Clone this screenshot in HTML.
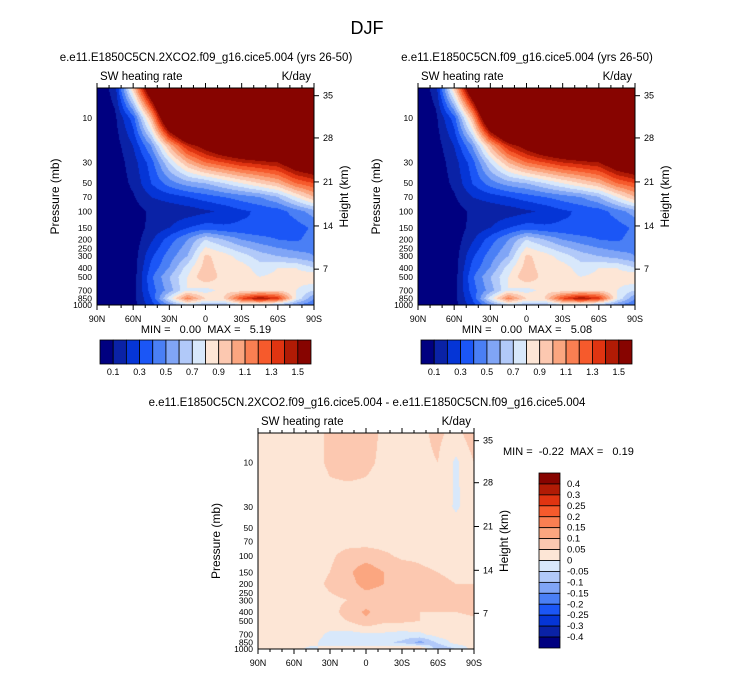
<!DOCTYPE html>
<html><head><meta charset="utf-8">
<style>
body{margin:0;background:#fff;}
#root{position:relative;width:733px;height:673px;overflow:hidden;background:#fff;font-family:"Liberation Sans",sans-serif;}
canvas{position:absolute;}
svg{position:absolute;left:0;top:0;}
text{white-space:pre;}
</style></head>
<body>
<div id="root">
<canvas id="c1" width="217" height="217" style="left:97px;top:88px"></canvas>
<canvas id="c2" width="217" height="217" style="left:418px;top:88px"></canvas>
<canvas id="c3" width="216" height="216" style="left:258px;top:433px"></canvas>
<svg id="s" width="733" height="673"></svg>
</div>
<script>
// ---- data ----
const lats = [90,75,60,45,30,15,0,-15,-30,-45,-60,-75,-90];
const levels = [5,10,20,30,50,70,100,150,200,300,400,500,700,850,1000];
const fieldA = [
 [0.0,0.15,0.9,1.8,2.5,3.0,3.2,3.3,3.4,3.4,3.4,3.3,3.2],
 [0.0,0.08,0.35,1.0,2.0,2.5,2.8,2.9,3.0,3.0,3.0,2.9,2.8],
 [0.0,0.05,0.2,0.5,1.0,1.4,1.6,1.8,1.9,2.0,2.0,2.0,2.0],
 [0.0,0.04,0.15,0.35,0.7,1.0,1.2,1.3,1.4,1.45,1.5,1.7,1.8],
 [0.0,0.04,0.12,0.3,0.45,0.55,0.6,0.7,0.8,0.9,1.0,1.2,1.3],
 [0.0,0.04,0.09,0.2,0.25,0.3,0.35,0.4,0.45,0.5,0.6,0.8,1.0],
 [0.0,0.03,0.05,0.12,0.12,0.14,0.18,0.22,0.28,0.32,0.35,0.45,0.55],
 [0.0,0.03,0.04,0.13,0.2,0.3,0.35,0.32,0.32,0.3,0.32,0.35,0.42],
 [0.0,0.03,0.04,0.18,0.35,0.5,0.7,0.6,0.5,0.45,0.4,0.38,0.45],
 [0.0,0.03,0.04,0.28,0.45,0.6,0.92,0.85,0.75,0.65,0.6,0.55,0.5],
 [0.0,0.03,0.04,0.33,0.5,0.75,0.95,0.85,0.85,0.75,0.8,0.8,0.7],
 [0.0,0.03,0.04,0.38,0.6,0.8,1.0,0.85,0.85,0.8,0.82,0.85,0.9],
 [0.0,0.03,0.05,0.35,0.55,0.8,0.75,0.85,0.85,0.88,0.9,0.8,0.7],
 [0.0,0.03,0.06,0.3,0.75,1.15,0.9,0.9,1.3,1.5,1.35,0.8,0.5],
 [0.0,0.03,0.06,0.25,0.5,0.7,0.6,0.6,0.7,0.7,0.6,0.5,0.4]
];
const fieldB = fieldA.map(r=>r.slice());
const fieldD = [
 [0.02,0.02,0.02,0.03,0.06,0.07,0.07,0.04,0.03,0.04,0.06,0.03,0.08],
 [0.02,0.02,0.02,0.03,0.06,0.07,0.06,0.04,0.03,0.04,0.05,-0.01,0.05],
 [0.02,0.02,0.02,0.02,0.04,0.04,0.04,0.03,0.03,0.04,0.05,-0.01,0.04],
 [0.02,0.02,0.02,0.02,0.03,0.03,0.03,0.03,0.04,0.04,0.04,-0.01,0.04],
 [0.02,0.02,0.02,0.03,0.03,0.03,0.03,0.03,0.03,0.03,0.04,0.03,0.04],
 [0.02,0.02,0.02,0.03,0.03,0.03,0.03,0.03,0.03,0.03,0.03,0.03,0.03],
 [0.02,0.02,0.02,0.03,0.04,0.07,0.08,0.06,0.04,0.04,0.03,0.03,0.03],
 [0.02,0.02,0.02,0.03,0.05,0.09,0.13,0.10,0.08,0.06,0.05,0.04,0.04],
 [0.02,0.02,0.02,0.03,0.06,0.08,0.12,0.10,0.09,0.07,0.06,0.05,0.05],
 [0.02,0.02,0.02,0.03,0.04,0.05,0.07,0.07,0.07,0.07,0.06,0.06,0.06],
 [0.02,0.02,0.02,0.02,0.03,0.07,0.11,0.07,0.06,0.05,0.05,0.05,0.06],
 [0.02,0.02,0.02,0.02,0.03,0.05,0.09,0.06,0.06,0.05,0.04,0.03,0.04],
 [0.02,0.02,0.02,0.02,-0.01,-0.02,-0.01,-0.01,-0.02,-0.01,0.02,0.03,0.02],
 [0.02,0.02,0.01,0.01,-0.02,-0.02,-0.03,-0.04,-0.06,-0.12,-0.04,0.02,0.02],
 [0.02,0.02,0.01,-0.01,0.02,0.02,0.03,0.04,0.06,0.08,-0.10,-0.05,0.02]
];
const contA = [0.1,0.2,0.3,0.4,0.5,0.6,0.7,0.8,0.9,1.0,1.1,1.2,1.3,1.4,1.5];
const labelsA = ["0.1","0.3","0.5","0.7","0.9","1.1","1.3","1.5"];
const contD = [-0.4,-0.3,-0.25,-0.2,-0.15,-0.1,-0.05,0,0.05,0.1,0.15,0.2,0.25,0.3,0.4];
const labelsD = ["-0.4","-0.3","-0.25","-0.2","-0.15","-0.1","-0.05","0","0.05","0.1","0.15","0.2","0.25","0.3","0.4"];
const latTicks = [90,60,30,0,-30,-60,-90];
const latLabels = ["90N","60N","30N","0","30S","60S","90S"];
const pTicks = [10,30,50,70,100,150,200,250,300,400,500,700,850,1000];
const kmTicks = ["35","28","21","14","7"];
const kmPress = [5.8,16.4,48.4,143,414];
const colors = ['#000080','#0a22a6','#0535d6','#1b56f6','#4a7ff5','#80a5f6','#b1c9f9','#d8e8fb','#fde6d6','#fcc8b0','#fba680','#fa7f52','#f65a2c','#e03411','#b11b05','#870400'];
// ---- helpers ----
const PTOP=4.8, PBOT=1000;
function yOf(p,y0,h){return y0+h*(Math.log(p)-Math.log(PTOP))/(Math.log(PBOT)-Math.log(PTOP));}
function xOf(lat,x0,w){return x0+w*(90-lat)/180;}
function interp(f,lat,p){
  let i=0; while(i<lats.length-2 && lat<lats[i+1]) i++;
  let tx=(lats[i]-lat)/(lats[i]-lats[i+1]); tx=Math.max(0,Math.min(1,tx));
  const lp=Math.log(p); let j=0;
  while(j<levels.length-2 && lp>Math.log(levels[j+1])) j++;
  let ty=(lp-Math.log(levels[j]))/(Math.log(levels[j+1])-Math.log(levels[j])); ty=Math.max(0,Math.min(1,ty));
  const a=f[j][i]*(1-tx)+f[j][i+1]*tx, b=f[j+1][i]*(1-tx)+f[j+1][i+1]*tx;
  return a*(1-ty)+b*ty;
}
function hex(c){return [parseInt(c.slice(1,3),16),parseInt(c.slice(3,5),16),parseInt(c.slice(5,7),16)];}
const rgb=colors.map(hex);
function paint(id,f,cont){
  const c=document.getElementById(id),ctx=c.getContext('2d'),W=c.width,H=c.height;
  const img=ctx.createImageData(W,H);
  for(let y=0;y<H;y++){const p=Math.exp(Math.log(PTOP)+(y+0.5)/H*(Math.log(PBOT)-Math.log(PTOP)));
    for(let x=0;x<W;x++){const lat=90-(x+0.5)/W*180;const v=interp(f,lat,p);
      let k=0;while(k<cont.length&&v>=cont[k])k++;const col=rgb[k];const o=(y*W+x)*4;
      img.data[o]=col[0];img.data[o+1]=col[1];img.data[o+2]=col[2];img.data[o+3]=255;}}
  ctx.putImageData(img,0,0);
}
paint('c1',fieldA,contA);paint('c2',fieldB,contA);paint('c3',fieldD,contD);
const S=document.getElementById('s'),NS='http://www.w3.org/2000/svg';
function el(t,a,txt){const e=document.createElementNS(NS,t);for(const k in a)e.setAttribute(k,a[k]);if(txt!==undefined)e.textContent=txt;S.appendChild(e);return e;}
function txt(x,y,s,size,anchor,name,extra){const e=el('text',Object.assign({x:x,y:y,'font-size':size,'text-anchor':anchor||'middle',fill:'#000'},extra||{}),s);

return e;}
function panel(x0,y0,w,h,key){
  const r=el('rect',{x:x0,y:y0,width:w,height:h,fill:'none',stroke:'#000','stroke-width':1});
  
  
  for(let lat=90;lat>=-90;lat-=10){const x=xOf(lat,x0,w);const L=lat%30===0?5:3;
    const t1=el('line',{x1:x,y1:y0,x2:x,y2:y0-L,stroke:'#000'});
    
    
    const t2=el('line',{x1:x,y1:y0+h,x2:x,y2:y0+h+L,stroke:'#000'});
    
    }
  latTicks.forEach((lat,i)=>txt(xOf(lat,x0,w),y0+h+17,latLabels[i],9,'middle','lat-tick-label'));
  pTicks.forEach(p=>{const y=yOf(p,y0,h);txt(x0-5,y+3,String(p),8.5,'end','pressure-tick-label');});
  kmPress.forEach((p,i)=>{const y=yOf(p,y0,h);const t=el('line',{x1:x0+w,y1:y,x2:x0+w+5,y2:y,stroke:'#000'});
    
    
    txt(x0+w+9,y+3,kmTicks[i],9,'start','height-tick-label');});
  txt(x0+3,y0-8,'SW heating rate',11.5,'start','left-string');
  txt(x0+w-3,y0-8,'K/day',11.5,'end','right-string');
  txt(x0-38,y0+h/2,'Pressure (mb)',12,'middle','y-axis-title',{transform:`rotate(-90 ${x0-38} ${y0+h/2})`});
  txt(x0+w+34,y0+h/2,'Height (km)',12,'middle','right-axis-title',{transform:`rotate(-90 ${x0+w+34} ${y0+h/2})`});
}
panel(97,88,217,217,'control');panel(418,88,217,217,'experiment');panel(258,433,216,216,'difference');
txt(367,34,'DJF',18,'middle','figure-title');
txt(206,61,'e.e11.E1850C5CN.2XCO2.f09_g16.cice5.004 (yrs 26-50)',11.5,'middle','control-subtitle');
txt(527,61,'e.e11.E1850C5CN.f09_g16.cice5.004 (yrs 26-50)',11.5,'middle','experiment-subtitle');
txt(367,406,'e.e11.E1850C5CN.2XCO2.f09_g16.cice5.004 - e.e11.E1850C5CN.f09_g16.cice5.004',11.5,'middle','difference-subtitle');
txt(206,333,'MIN =   0.00  MAX =   5.19',11,'middle','control-min-max');
txt(527,333,'MIN =   0.00  MAX =   5.08',11,'middle','experiment-min-max');
txt(503,455,'MIN =  -0.22  MAX =   0.19',11,'start','difference-min-max');
function hbar(x0,key){const y0=340,w=211,h=24,bw=w/16;
  colors.forEach((c,i)=>{const r=el('rect',{x:x0+i*bw,y:y0,width:bw,height:h,fill:c,stroke:'#000','stroke-width':0.8});
    
    });
  labelsA.forEach((l,i)=>txt(x0+(2*i+1)*bw,y0+h+11,l,9,'middle','colorbar-label'));}
hbar(100,'control');hbar(421,'experiment');
(function(){const x0=539,y0=473,w=21,h=175,bh=h/16;
  for(let i=0;i<16;i++){const r=el('rect',{x:x0,y:y0+i*bh,width:w,height:bh,fill:colors[15-i],stroke:'#000','stroke-width':0.8});
    
    }
  for(let i=0;i<15;i++)txt(x0+28,y0+(i+1)*bh+3,labelsD[14-i],9.5,'start','difference-colorbar-label');
})();
</script>
</body></html>
